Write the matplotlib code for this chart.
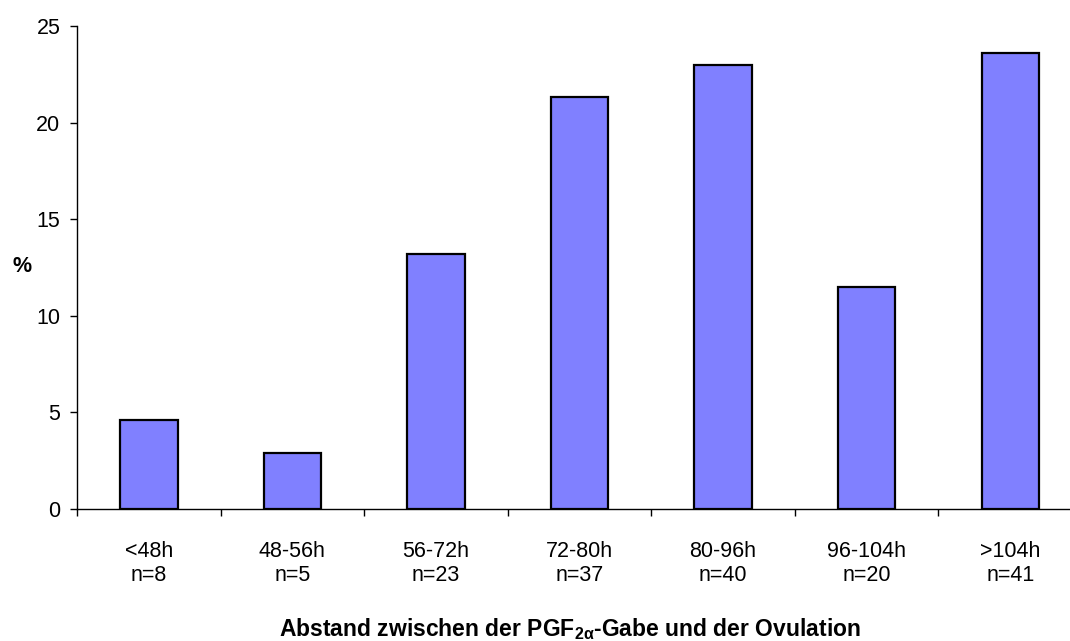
import matplotlib
matplotlib.use('Agg')
import matplotlib.pyplot as plt
import numpy as np

plt.rcParams['font.family'] = ['Liberation Sans', 'DejaVu Sans']
plt.rcParams['mathtext.fontset'] = 'custom'
plt.rcParams['mathtext.rm'] = 'Liberation Sans'
plt.rcParams['mathtext.bf'] = 'Liberation Sans:bold'
plt.rcParams['mathtext.it'] = 'Liberation Sans:italic'

categories = ['<48h', '48-56h', '56-72h', '72-80h', '80-96h', '96-104h', '>104h']
counts = [8, 5, 23, 37, 40, 20, 41]
percent = [4.6, 2.9, 13.2, 21.3, 23.0, 11.5, 23.6]

fig = plt.figure(figsize=(10.70, 6.41), dpi=100)
# axis runs past the right edge of the picture, as in the original
ax = fig.add_axes([77/1070, 132/641, 1005/1070, 483/641])

x = np.arange(len(categories))
ax.bar(x, percent, width=0.40, color='#8080FF', edgecolor='black', linewidth=1.6)

ax.set_xlim(-0.5, len(categories) - 0.5)
ax.set_ylim(0, 25)
ax.set_yticks([0, 5, 10, 15, 20, 25])

ax.set_xticks(np.arange(len(categories) + 1) - 0.5)
ax.set_xticklabels([])
ax.set_xticks(x, minor=True)
ax.set_xticklabels([c + '\nn=' + str(n) for c, n in zip(categories, counts)],
                   minor=True, fontsize=15.5, linespacing=1.2)
ax.tick_params(axis='x', which='minor', length=0, pad=23)
ax.tick_params(axis='x', which='major', length=5, width=1, direction='out')
ax.tick_params(axis='y', length=5, width=1, direction='out', labelsize=15.5, pad=7)

for s in ['top', 'right']:
    ax.spines[s].set_visible(False)
ax.spines['left'].set_linewidth(1)
ax.spines['bottom'].set_linewidth(1)

fig.text(22/1070, 1 - 266/641, '%', fontsize=15.5, fontweight='bold',
         ha='center', va='center')
fig.text(570/1070, 1 - 629/641,
         r'Abstand zwischen der PGF$_{\mathbf{2\alpha}}$-Gabe und der Ovulation',
         fontsize=16.5, fontweight='bold', ha='center', va='center')

fig.savefig('out.png', dpi=100)
